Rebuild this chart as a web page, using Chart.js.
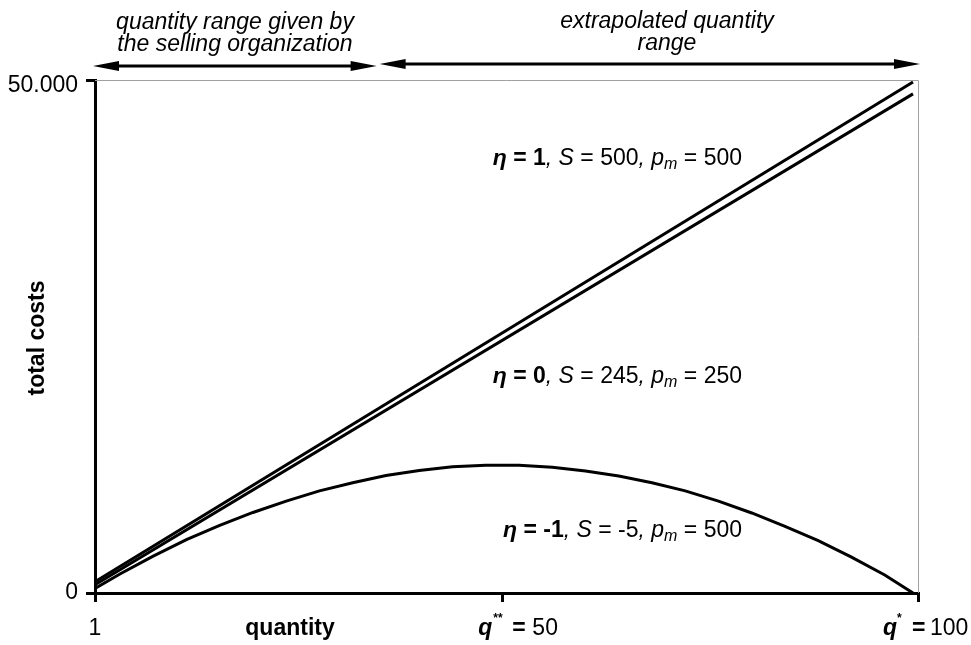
<!DOCTYPE html>
<html>
<head>
<meta charset="utf-8">
<script src="https://cdn.jsdelivr.net/npm/chart.js@4/dist/chart.umd.min.js"></script>
<style>
  html, body { margin: 0; padding: 0; background: #fff; }
  canvas { display: block; }
</style>
</head>
<body>
<canvas id="costChart" width="971" height="645"></canvas>
<script>
// Data
const qLine = [1, 99.4];
const costEta1 = [1100, 49800];
const costEta0 = [800, 48650];

const qCurve = [1, 4, 8, 12, 16, 20, 24, 28, 32, 36, 40, 44, 48, 52, 56, 60, 64, 68, 72, 76, 80, 84, 88, 92, 96, 99.4];
const costEtaMinus1 = [450, 1850, 3600, 5200, 6600, 7850, 8950, 9950, 10750, 11450, 11950, 12300, 12450,
  12450, 12250, 11900, 11400, 10750, 9950, 8950, 7800, 6500, 5100, 3500, 1750, 0];

const xTicks = [1, 50, 100];
const yTicks = [0, 50000];
const yTickLabels = ['0', '50.000'];
const rangeSplit = 35; // where the given range ends

const FONT = 'Liberation Sans, Arial, sans-serif';

function toPoints(xs, ys) {
  return xs.map((x, i) => ({ x: x, y: ys[i] }));
}

// draw a run of text pieces with different fonts
function drawRich(ctx, parts, x, y, align) {
  let total = 0;
  parts.forEach(p => { ctx.font = p.font; total += ctx.measureText(p.t).width; });
  let cx = align === 'right' ? x - total : (align === 'center' ? x - total / 2 : x);
  ctx.textAlign = 'left';
  ctx.textBaseline = 'alphabetic';
  parts.forEach(p => {
    ctx.font = p.font;
    ctx.fillText(p.t, cx, y + (p.dy || 0));
    cx += ctx.measureText(p.t).width;
  });
}

function arrow(ctx, x1, x2, y) {
  const len = 26, half = 5;
  ctx.lineWidth = 3;
  ctx.beginPath();
  ctx.moveTo(x1 + 10, y);
  ctx.lineTo(x2 - 10, y);
  ctx.stroke();
  ctx.beginPath();
  ctx.moveTo(x1, y); ctx.lineTo(x1 + len, y - half); ctx.lineTo(x1 + len, y + half); ctx.closePath();
  ctx.fill();
  ctx.beginPath();
  ctx.moveTo(x2, y); ctx.lineTo(x2 - len, y - half); ctx.lineTo(x2 - len, y + half); ctx.closePath();
  ctx.fill();
}

const b = 'bold 23px ' + FONT;
const bi = 'bold italic 23px ' + FONT;
const it = 'italic 23px ' + FONT;
const n = '23px ' + FONT;
const sub = 'italic 16px ' + FONT;
const sup = 'bold 12px ' + FONT;

function label(eta, s, pm) {
  return [
    { t: 'η', font: bi },
    { t: ' = ' + eta, font: b },
    { t: ', ', font: it },
    { t: 'S', font: it },
    { t: ' = ' + s, font: n },
    { t: ', ', font: it },
    { t: 'p', font: it },
    { t: 'm', font: sub, dy: 4 },
    { t: ' = ' + pm, font: n }
  ];
}

const decorPlugin = {
  id: 'decor',
  beforeDatasetsDraw(chart) {
    const { ctx, chartArea: a } = chart;
    ctx.save();
    ctx.strokeStyle = '#a0a0a0';
    ctx.lineWidth = 1;
    ctx.beginPath();
    ctx.moveTo(a.left, a.top + 0.5);
    ctx.lineTo(a.right + 0.5, a.top + 0.5);
    ctx.lineTo(a.right + 0.5, a.bottom);
    ctx.stroke();
    ctx.restore();
  },
  afterDraw(chart) {
    const { ctx, chartArea: a } = chart;
    const xs = chart.scales.x, ys = chart.scales.y;
    const x1 = xs.getPixelForValue(1), x100 = xs.getPixelForValue(100), x50 = xs.getPixelForValue(50);
    const xSplit = xs.getPixelForValue(rangeSplit);
    ctx.save();
    ctx.fillStyle = '#000';
    ctx.strokeStyle = '#000';

    // y tick labels (top one kept inside the plot height)
    ctx.font = n;
    ctx.textAlign = 'right';
    ctx.textBaseline = 'middle';
    yTicks.forEach((v, i) => {
      const py = Math.max(ys.getPixelForValue(v), a.top + 6);
      ctx.fillText(yTickLabels[i], a.left - 17, py);
    });

    // range arrows
    arrow(ctx, x1 - 2, xSplit - 1, 66);
    arrow(ctx, xSplit + 2, x100 + 2, 64);

    ctx.textAlign = 'center';
    ctx.textBaseline = 'alphabetic';
    ctx.font = it;
    ctx.fillText('quantity range given by', 235, 29);
    ctx.fillText('the selling organization', 235, 51);
    ctx.fillText('extrapolated quantity', 667, 28);
    ctx.fillText('range', 667, 50);

    // curve labels
    drawRich(ctx, label('1', '500', '500'), 742, 165, 'right');
    drawRich(ctx, label('0', '245', '250'), 742, 383, 'right');
    drawRich(ctx, label('-1', '-5', '500'), 742, 537, 'right');

    // x axis texts
    ctx.textAlign = 'center';
    ctx.font = n;
    ctx.fillText('1', x1, 635);
    ctx.font = b;
    ctx.fillText('quantity', 290, 635);

    ctx.textAlign = 'left';
    ctx.font = bi; ctx.fillText('q', x50 - 24, 635);
    ctx.font = sup; ctx.fillText('**', x50 - 9, 622);
    ctx.font = b; ctx.fillText('=', x50 + 10, 635);
    ctx.font = n; ctx.fillText('50', x50 + 30, 635);

    ctx.font = bi; ctx.fillText('q', x100 - 35, 635);
    ctx.font = sup; ctx.fillText('*', x100 - 21, 622);
    ctx.font = b; ctx.fillText('=', x100 - 6, 635);
    ctx.font = n; ctx.fillText('100', x100 + 12, 635);

    // y axis title
    ctx.translate(38, 338);
    ctx.rotate(-Math.PI / 2);
    ctx.textAlign = 'center';
    ctx.textBaseline = 'middle';
    ctx.font = b;
    ctx.fillText('total costs', 0, 0);
    ctx.restore();
  }
};

const lineStyle = {
  borderColor: '#000',
  borderWidth: 3,
  pointRadius: 0,
  fill: false,
  tension: 0
};

new Chart(document.getElementById('costChart').getContext('2d'), {
  type: 'line',
  data: {
    datasets: [
      Object.assign({ label: 'eta = 1', data: toPoints(qLine, costEta1) }, lineStyle),
      Object.assign({ label: 'eta = 0', data: toPoints(qLine, costEta0) }, lineStyle),
      Object.assign({ label: 'eta = -1', data: toPoints(qCurve, costEtaMinus1) }, lineStyle)
    ]
  },
  options: {
    responsive: false,
    animation: false,
    layout: { padding: { top: 80, right: 53, left: 0, bottom: 0 } },
    plugins: { legend: { display: false }, tooltip: { enabled: false } },
    scales: {
      x: {
        type: 'linear',
        min: 1,
        max: 100,
        afterBuildTicks: s => { s.ticks = xTicks.map(v => ({ value: v })); },
        afterFit: s => { s.height = 52; },
        ticks: { display: false },
        grid: { drawOnChartArea: false, color: '#000', lineWidth: 3, tickLength: 9 },
        border: { color: '#000', width: 3 }
      },
      y: {
        min: 0,
        max: 50000,
        afterBuildTicks: s => { s.ticks = yTicks.map(v => ({ value: v })); },
        afterFit: s => { s.width = 95; },
        ticks: { display: false },
        grid: { drawOnChartArea: false, color: '#000', lineWidth: 3, tickLength: 9 },
        border: { color: '#000', width: 3 }
      }
    }
  },
  plugins: [decorPlugin]
});
</script>
</body>
</html>
